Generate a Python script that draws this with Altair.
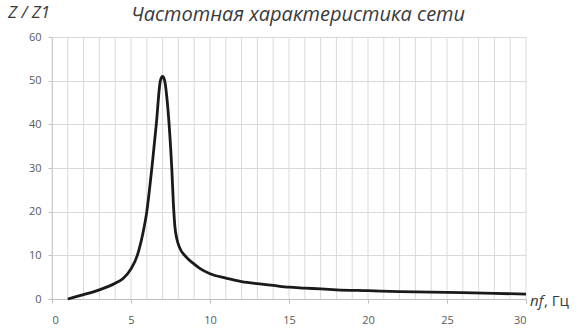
import altair as alt
import pandas as pd

# Network frequency response: relative impedance Z/Z1 versus frequency nf (Hz)
freq = [1.0, 2.0, 3.0, 4.0, 4.5, 5.0, 5.4, 5.75, 6.0, 6.2, 6.35, 6.6, 6.86, 7.0,
        7.13, 7.3, 7.45, 7.58, 7.68, 7.78, 7.9, 8.05, 8.5, 9.0, 9.4, 10.0, 11.0,
        12.0, 13.0, 14.0, 15.0, 16.0, 17.0, 18.0, 20.0, 22.0, 25.0, 28.0, 30.0]
z_ratio = [0.0, 1.0, 2.1, 3.6, 4.7, 6.9, 10.0, 15.0, 20.0, 26.0, 31.0, 40.0, 50.0, 51.0,
           50.0, 45.0, 38.0, 30.0, 22.0, 16.5, 13.8, 12.0, 9.6, 8.0, 6.9, 5.8, 4.8,
           4.0, 3.5, 3.1, 2.7, 2.5, 2.3, 2.1, 1.9, 1.7, 1.5, 1.3, 1.1]

x_grid = list(range(0, 31))
x_ticks = [0, 5, 10, 15, 20, 25, 30]
y_ticks = [0, 10, 20, 30, 40, 50, 60]

curve = pd.DataFrame({"f": freq, "z": z_ratio, "i": range(len(freq))})
grid = pd.DataFrame({"g": x_grid})

FONT = "Open Sans"
GRID = "#d9d9d9"
AXIS = "#bfbfbf"
LABEL = "#595959"
TEXT = "#3a3a3a"

xscale = alt.Scale(domain=[0, 30], nice=False, zero=False)
yscale = alt.Scale(domain=[0, 60], nice=False)

x_axis = alt.Axis(
    values=x_ticks, grid=False, title=None, domainColor=AXIS, tickColor=AXIS,
    tickSize=4, labelPadding=11, labelFont=FONT, labelFontSize=11,
    labelColor=LABEL)

# one vertical grid line per hertz
vgrid = alt.Chart(grid).mark_rule(color=GRID, strokeWidth=1).encode(
    x=alt.X("g:Q", scale=xscale, axis=x_axis),
    y=alt.value(0),
    y2=alt.value(262),
)

line = alt.Chart(curve).mark_line(
    color="#1a1a1a", strokeWidth=2.8, interpolate="monotone"
).encode(
    x=alt.X("f:Q", scale=xscale, axis=x_axis),
    y=alt.Y("z:Q", scale=yscale, axis=alt.Axis(
        values=y_ticks, grid=True, gridColor=GRID, title=None, domainColor=AXIS,
        tickColor=AXIS, tickSize=4, labelPadding=7, labelFont=FONT,
        labelFontSize=11, labelColor=LABEL)),
    order="i:Q",
)

title = alt.Chart(pd.DataFrame({"t": ["Частотная характеристика сети"]})).mark_text(
    font=FONT, fontStyle="italic", fontSize=20, color=TEXT, align="center",
    baseline="middle",
).encode(text="t:N", x=alt.value(246), y=alt.value(-22))

ylab = alt.Chart(pd.DataFrame({"t": ["Z / Z1"]})).mark_text(
    font=FONT, fontStyle="italic", fontSize=17, color=TEXT, align="left",
    baseline="middle",
).encode(text="t:N", x=alt.value(-44), y=alt.value(-24))

xlab_nf = alt.Chart(pd.DataFrame({"t": ["nf"]})).mark_text(
    font=FONT, fontStyle="italic", fontSize=15, color=TEXT, align="left",
    baseline="middle",
).encode(text="t:N", x=alt.value(478), y=alt.value(264))

xlab_hz = alt.Chart(pd.DataFrame({"t": [", Гц"]})).mark_text(
    font=FONT, fontSize=15, color=TEXT, align="left", baseline="middle",
).encode(text="t:N", x=alt.value(492), y=alt.value(264))

chart = alt.layer(vgrid, line, title, ylab, xlab_nf, xlab_hz).properties(
    width=474, height=262,
    padding={"left": 52, "top": 37, "right": 54, "bottom": 30},
    autosize=alt.AutoSizeParams(type="none"),
    background="white",
).configure_view(stroke=None)

chart.save("out.html", embed_options={"renderer": "svg", "actions": False})
